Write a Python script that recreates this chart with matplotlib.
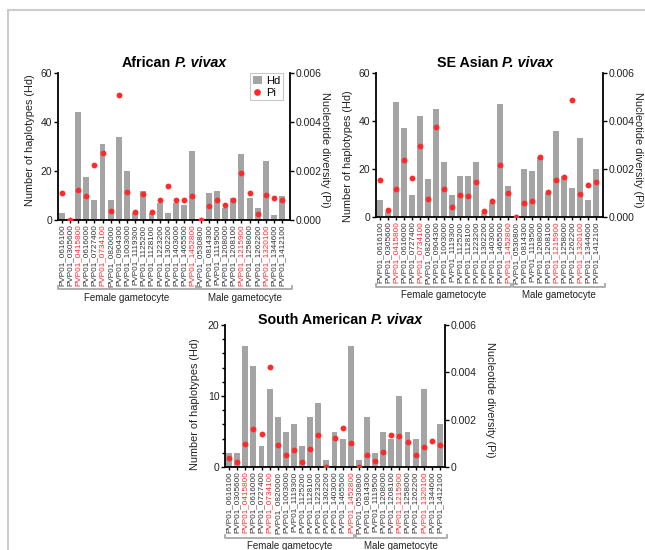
import matplotlib
matplotlib.use("Agg")
import matplotlib.pyplot as plt
from matplotlib.lines import Line2D
from matplotlib.patches import Patch
from matplotlib.transforms import blended_transform_factory
from matplotlib.ticker import MultipleLocator

plt.rcParams['font.family'] = ['Liberation Sans', 'DejaVu Sans']

# ---------------- data ----------------
female_genes = ['PVP01_0616100', 'PVP01_0305600', 'PVP01_0415800', 'PVP01_0616000',
                'PVP01_0727400', 'PVP01_0734100', 'PVP01_0820000', 'PVP01_0904300',
                'PVP01_1003000', 'PVP01_1119300', 'PVP01_1125200', 'PVP01_1128100',
                'PVP01_1223200', 'PVP01_1302200', 'PVP01_1403000', 'PVP01_1465500',
                'PVP01_1452800']
female_genes_sa = [g for g in female_genes if g != 'PVP01_0904300']
male_genes = ['PVP01_0530800', 'PVP01_0814300', 'PVP01_1119500', 'PVP01_1208000',
              'PVP01_1208100', 'PVP01_1215900', 'PVP01_1258000', 'PVP01_1262200',
              'PVP01_1320100', 'PVP01_1344600', 'PVP01_1412100']
red_genes = ['PVP01_0415800', 'PVP01_0734100', 'PVP01_1452800',
             'PVP01_1215900', 'PVP01_1320100']

african_hd = [3, 0, 44, 17.5, 8, 31, 8, 34, 20, 3, 12, 3, 7, 3, 7, 6, 28,
              0, 11, 12, 5, 9, 27, 9, 5, 24, 2, 10]
african_pi = [0.00112, 0.0, 0.00121, 0.00097, 0.00224, 0.00275, 0.00035, 0.00511,
              0.00116, 0.00034, 0.00108, 0.00034, 0.00082, 0.00138, 0.00082, 0.00082,
              0.00097, 0.0, 0.00056, 0.00082, 0.0006, 0.0008, 0.0019, 0.00112,
              0.00026, 0.00104, 0.00091, 0.00082]

seasian_hd = [7, 2, 48, 37, 9, 42, 16, 45, 23, 9, 17, 17, 23, 1.5, 6, 47, 13,
              0, 20, 19, 25, 10, 36, 17, 12, 33, 7, 20]
seasian_pi = [0.00153, 0.00029, 0.00115, 0.00237, 0.00161, 0.00294, 0.00075, 0.00376,
              0.00118, 0.00042, 0.0009, 0.00086, 0.00147, 0.00025, 0.00065, 0.00217,
              0.001, 0.0, 0.0006, 0.00065, 0.0025, 0.00103, 0.00153, 0.00167,
              0.00489, 0.00094, 0.00133, 0.00147]

samerican_hd = [2, 2, 17, 14.2, 3, 11, 7, 5, 6, 3, 7, 9, 1, 5, 4, 17,
                1, 7, 2, 5, 4, 10, 5, 4, 11, 0, 6]
samerican_pi = [0.00038, 0.00023, 0.00099, 0.00162, 0.00141, 0.00422, 0.00095, 0.00049,
                0.00072, 0.00021, 0.00075, 0.00137, 0.0, 0.00124, 0.00164, 0.00103,
                0.0, 0.00051, 0.00025, 0.00064, 0.00136, 0.0013, 0.00106, 0.00049,
                0.00086, 0.00109, 0.00092]

BAR = '#a4a4a4'
RED = '#ff2a2a'
W, H = 645, 550

fig = plt.figure(figsize=(W / 100, H / 100), dpi=100)
renderer = fig.canvas.get_renderer()


def fx(px):
    return px / W


def fy(py):
    return 1 - py / H


def two_part_title(xc, yc, plain, ital, size=10.3):
    t1 = fig.text(0, fy(yc), plain, ha='left', va='center', fontsize=size,
                  fontweight='bold')
    t2 = fig.text(0, fy(yc), ital, ha='left', va='center', fontsize=size,
                  fontweight='bold', fontstyle='italic')
    w1 = t1.get_window_extent(renderer).width
    w2 = t2.get_window_extent(renderer).width
    gap = 0.278 * size * 100 / 72
    x0 = xc - (w1 + gap + w2) / 2
    t1.set_x(fx(x0))
    t2.set_x(fx(x0 + w1 + gap))


def panel(rect, title, title_xy, genes_f, genes_m, hd, pi, ymax, yticks,
          pticks, plabels, xlim, ylab_xy, rlab_xy, bracket_y, group_y,
          legend=False, minor=None):
    l, r, t, b = rect
    ax = fig.add_axes([fx(l), fy(b), fx(r - l), (b - t) / H])
    genes = genes_f + genes_m
    x = list(range(len(genes)))
    ax.bar(x, hd, width=0.72, color=BAR, zorder=2)
    ax.set_xlim(*xlim)
    ax.set_ylim(0, ymax)
    ax.set_yticks(yticks)
    if minor:
        ax.yaxis.set_minor_locator(MultipleLocator(minor))
        ax.tick_params(axis='y', which='minor', length=2, width=1)
    ax.set_xticks(x)
    ax.set_xticklabels(genes, rotation=90, fontsize=5.9)
    for lab, g in zip(ax.get_xticklabels(), genes):
        lab.set_color(RED if g in red_genes else '#333333')
    ax.tick_params(axis='x', length=2.5, width=1, pad=0.8)
    ax.tick_params(axis='y', length=3, width=1, labelsize=7.5, pad=1,
                   labelcolor='#222222')
    for s in ['top', 'right']:
        ax.spines[s].set_visible(False)
    for s in ['left', 'bottom']:
        ax.spines[s].set_linewidth(1.3)

    ax2 = ax.twinx()
    ax2.plot(x, pi, 'o', color=RED, markersize=4.2, markeredgewidth=0, zorder=3)
    ax2.set_ylim(0, 0.006)
    ax2.set_yticks(pticks)
    ax2.set_yticklabels(plabels)
    ax2.tick_params(axis='y', length=3, width=1, labelsize=7.5, pad=1,
                    labelcolor='#222222')
    for s in ['top', 'left', 'bottom']:
        ax2.spines[s].set_visible(False)
    ax2.spines['right'].set_linewidth(1.3)

    two_part_title(title_xy[0], title_xy[1], title, 'P. vivax')
    fig.text(fx(ylab_xy[0]), fy(ylab_xy[1]), 'Number of haplotypes (Hd)',
             rotation=90, ha='center', va='center', fontsize=7.8, color='#222222')
    fig.text(fx(rlab_xy[0]), fy(rlab_xy[1]), 'Nucleotide diversity (Pi)',
             rotation=270, ha='center', va='center', fontsize=7.8, color='#222222')

    # group brackets
    tr = blended_transform_factory(ax.transData, fig.transFigure)
    nf = len(genes_f)
    yb = fy(bracket_y)
    up = 3 / H
    spans = [(xlim[0] - 0.05, nf - 1 + 0.42, 'Female gametocyte'),
             (nf - 1 + 0.6, xlim[1] + 0.2, 'Male gametocyte')]
    for x0, x1, name in spans:
        ln = Line2D([x0, x0, x1, x1], [yb + up, yb, yb, yb + up], transform=tr,
                    color='#a8a8a8', lw=1.3, clip_on=False)
        fig.add_artist(ln)
        fig.text((x0 + x1) / 2, fy(group_y), name, transform=tr, ha='center',
                 va='center', fontsize=7, color='#222222')

    if legend:
        handles = [Patch(facecolor=BAR, edgecolor='none', label='Hd'),
                   Line2D([], [], marker='o', color=RED, linestyle='none',
                          markersize=4.8, markeredgewidth=0, label='Pi')]
        lg = ax2.legend(handles=handles, loc='upper right', fontsize=8,
                        bbox_to_anchor=(1 - 7 / (r - l), 1.0),
                        frameon=True, fancybox=False, handlelength=0.8,
                        handleheight=0.8, handletextpad=0.4, borderpad=0.25,
                        labelspacing=0.15, borderaxespad=0.0)
        lg.get_frame().set_edgecolor('#bbbbbb')
        lg.get_frame().set_linewidth(0.8)
    return ax


panel((58, 290, 73, 220), 'African', (174, 63),
      female_genes, male_genes, african_hd, african_pi, 60, [0, 20, 40, 60],
      [0, 0.002, 0.004, 0.006], ['0.000', '0.002', '0.004', '0.006'],
      (-0.45, 27.95), (30, 140), (325, 150), 289, 298, legend=True)

panel((376, 603, 73, 217), 'SE Asian', (495, 63),
      female_genes, male_genes, seasian_hd, seasian_pi, 60, [0, 20, 40, 60],
      [0, 0.002, 0.004, 0.006], ['0.000', '0.002', '0.004', '0.006'],
      (-0.54, 27.92), (348, 156), (638, 150), 287, 295)

panel((225, 445, 325, 467), 'South American', (340, 320),
      female_genes_sa, male_genes, samerican_hd, samerican_pi, 20, [0, 10, 20],
      [0, 0.002, 0.004, 0.006], ['0', '0.002', '0.004', '0.006'],
      (-0.5, 26.62), (195, 404), (490, 400), 538, 546, minor=2)

# page frame lines
fig.add_artist(Line2D([fx(8), fx(8)], [0, fy(10)], transform=fig.transFigure,
                      color='#cccccc', lw=1.5))
fig.add_artist(Line2D([fx(8), 1], [fy(10), fy(10)], transform=fig.transFigure,
                      color='#cccccc', lw=1.5))

fig.savefig('out.png', dpi=100)
